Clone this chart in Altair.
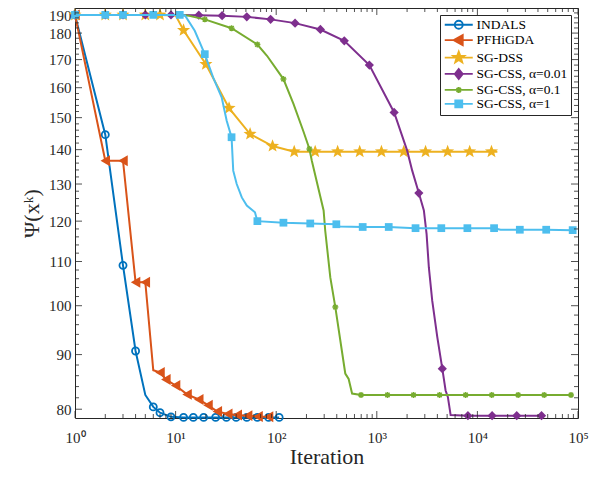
import altair as alt
import pandas as pd
import numpy as np

SERIES = ["INDALS", "PFHiGDA", "SG-DSS", "SG-CSS, α=0.01", "SG-CSS, α=0.1", "SG-CSS, α=1"]
COLORS = ["#0072BD", "#D95319", "#EDB120", "#7E2F8E", "#77AC30", "#4DBEEE"]

indals_it = [1, 2, 3, 4, 5, 6, 7, 9, 12, 15, 19, 25, 32, 40, 51, 65, 84, 107]
indals_val = [187.2, 144.6, 109.1, 90.7, 82.5, 80.4, 79.4, 78.7, 78.6, 78.6, 78.6, 78.6, 78.6, 78.6, 78.6, 78.6, 78.6, 78.6]
indals_mk = [1, 1, 1, 1, 0, 1, 1, 1, 1, 1, 1, 1, 1, 1, 1, 1, 1, 1]

pf_it = [1, 2, 3, 4, 5, 6, 7, 8, 10, 13, 17, 21, 26, 33, 41, 52, 66, 84, 92]
pf_val = [187.2, 136.7, 136.7, 105.2, 105.2, 87.0, 86.6, 85.3, 84.2, 82.6, 81.7, 80.7, 79.6, 79.2, 79.0, 78.9, 78.75, 78.7, 78.7]
pf_mk = [1, 1, 1, 1, 1, 0, 1, 1, 1, 1, 1, 1, 1, 1, 1, 1, 1, 1, 0]

dss_it = [1, 2, 3, 5, 7, 10, 12, 20, 34, 55, 92, 151, 244, 408, 676, 1112, 1854, 3053, 5060, 8380, 13800, 15800]
dss_val = [187.2, 187.2, 187.2, 187.2, 187.2, 187.0, 181.1, 168.3, 153.1, 144.8, 141.1, 139.4,
           139.4, 139.4, 139.4, 139.4, 139.4, 139.4, 139.4, 139.4, 139.4, 139.4]
dss_mk = [1, 1, 1, 1, 1, 0, 1, 1, 1, 1, 1, 1, 1, 1, 1, 1, 1, 1, 1, 1, 1, 0]

cs1_it = [1, 2, 3, 5, 9, 17, 29, 51, 88, 154, 275, 475, 843, 1487, 2004, 2249, 2617, 2937, 3126, 3292,
          3556, 3990, 4478, 4830, 5090, 5420, 8050, 14000, 24600, 43400]
cs1_val = [187.2, 187.2, 187.2, 187.2, 187.2, 187.1, 186.9, 186.4, 185.4, 183.9, 181.4, 177.0, 168.0, 151.7,
           139.7, 133.8, 127.5, 122.8, 116.7, 108.6, 101.1, 93.5, 87.3, 83.3, 82.1, 79.0, 78.9, 78.9, 78.9, 78.9]
cs1_mk = [1, 1, 1, 1, 1, 1, 1, 1, 1, 1, 1, 1, 1, 1, 0, 0, 1, 0, 0, 0, 0, 0, 1, 0, 0, 0, 1, 1, 1, 1]

cs2_it = [1, 2, 3, 6, 11, 13, 19.5, 36, 65, 81, 118, 148.5, 187, 214, 226, 296, 307, 345, 387, 486, 525, 568,
          697, 1276, 2317, 4210, 7640, 13900, 25400, 46100, 85200]
cs2_val = [187.2, 187.2, 187.2, 187.2, 187.2, 187.0, 185.4, 181.9, 175.6, 171.4, 163.0, 154.5, 145.5, 140.2,
           136.7, 122.8, 117.6, 106.3, 99.7, 86.4, 85.4, 82.75, 82.5, 82.5, 82.5, 82.5, 82.5, 82.5, 82.5, 82.5, 82.5]
cs2_mk = [1, 1, 1, 1, 1, 0, 1, 1, 1, 0, 1, 0, 0, 1, 0, 0, 0, 0, 1, 0, 0, 0, 1, 1, 1, 1, 1, 1, 1, 1, 1]

cs3_it = [1, 2, 3, 6, 11, 12.4, 15.5, 19.5, 23.6, 28.7, 32.2, 36, 37.4, 40.5, 45.5, 51, 61.5, 65, 118, 218,
          396, 430, 724, 1314, 2427, 4377, 7950, 14650, 17000, 26400, 48300, 88500]
cs3_val = [187.2, 187.2, 187.2, 187.2, 187.2, 187.0, 180.9, 172.0, 163.6, 156.7, 149.0, 143.8, 133.8, 130.0,
           126.3, 124.1, 122.3, 120.0, 119.6, 119.4, 119.2, 118.6, 118.5, 118.5, 118.2, 118.2, 118.2, 118.2,
           117.8, 117.8, 117.8, 117.7]
cs3_mk = [1, 1, 1, 1, 1, 0, 0, 1, 0, 0, 0, 1, 0, 0, 0, 0, 0, 1, 1, 1, 1, 0, 1, 1, 1, 1, 1, 1, 0, 1, 1, 1]

X_MAJOR = [1, 10, 100, 1000, 10000, 100000]
X_MINOR = [m * 10 ** k for k in range(5) for m in range(2, 10)]
Y_MAJOR = [80, 90, 100, 110, 120, 130, 140, 150, 160, 170, 180, 190]
Y_MINOR = [v for v in range(80, 190, 2) if v % 10 != 0]

W, H = 503, 410
FONT = "Liberation Serif"
AX = "#262626"


def star(R, r):
    pts = []
    for i in range(10):
        a = -np.pi / 2 + i * np.pi / 5
        rad = R if i % 2 == 0 else r
        pts.append((rad * np.cos(a), rad * np.sin(a)))
    return "M" + "L".join(f"{x:.3f},{y:.3f}" for x, y in pts) + "Z"


def asterisk(s):
    d = s * 0.72
    return (f"M{-s},0L{s},0M0,{-s}L0,{s}M{-d:.3f},{-d:.3f}L{d:.3f},{d:.3f}"
            f"M{-d:.3f},{d:.3f}L{d:.3f},{-d:.3f}")


# plot markers: (shape, size, filled, strokeWidth)
MARKERS = [
    ("circle", 50, False, 1.8),
    ("triangle-left", 120, True, 1),
    (star(1, 0.42), 190, True, 1),
    ("diamond", 85, True, 1),
    (asterisk(1), 36, False, 1.5),
    ("square", 60, True, 1),
]

LINE = "M-2.8,0L2.8,0"
LEG_SHAPES = [
    LINE + "M-0.8,0A0.8,0.8,0,1,1,0.8,0A0.8,0.8,0,1,1,-0.8,0Z",
    LINE + "M-1.0,0L0.8,-1.0L0.8,1.0Z",
    LINE + star(1.2, 0.5),
    LINE + "M0,-1.0L0.8,0L0,1.0L-0.8,0Z",
    LINE + asterisk(0.6),
    LINE + "M-0.7,-0.7L0.7,-0.7L0.7,0.7L-0.7,0.7Z",
]
LEG_FILLS = ["white", COLORS[1], COLORS[2], COLORS[3], COLORS[4], COLORS[5]]

xscale = alt.Scale(type="log", domain=[1, 100000], nice=False)
yscale = alt.Scale(type="log", domain=[78.5, 190], nice=False)

data = [
    (indals_it, indals_val, indals_mk),
    (pf_it, pf_val, pf_mk),
    (dss_it, dss_val, dss_mk),
    (cs1_it, cs1_val, cs1_mk),
    (cs2_it, cs2_val, cs2_mk),
    (cs3_it, cs3_val, cs3_mk),
]

x_axis = alt.Axis(orient="bottom", values=X_MAJOR, ticks=False, domain=False, grid=False, labelFlush=False,
                  labelExpr="'10' + ['⁰','¹','²','³','⁴','⁵'][round(log(datum.value)/LN10)]",
                  labelFont=FONT, labelFontSize=15, labelColor=AX, labelPadding=12,
                  title="Iteration", titleFont=FONT, titleFontSize=22, titleFontWeight="normal",
                  titleColor=AX, titlePadding=1)
y_axis = alt.Axis(orient="left", values=Y_MAJOR, ticks=False, domain=False, grid=False, labelFlush=True,
                  labelFont=FONT, labelFontSize=15, labelColor=AX, labelPadding=4,
                  title="Ψ(xᵏ)", titleFont=FONT, titleFontSize=22, titleFontWeight="normal",
                  titleColor=AX, titlePadding=5)


def X(field):
    return alt.X(field, scale=xscale, axis=x_axis)


def Y(field):
    return alt.Y(field, scale=yscale, axis=y_axis)


layers = []
for i, (its, vals, mks) in enumerate(data):
    df = pd.DataFrame({"iter": its, "val": vals, "mk": mks})
    line = alt.Chart(df).mark_line(color=COLORS[i], strokeWidth=2).encode(x=X("iter:Q"), y=Y("val:Q"))
    shape, size, filled, sw = MARKERS[i]
    pts = alt.Chart(df).transform_filter("datum.mk == 1").mark_point(
        shape=shape, size=size, filled=filled, color=COLORS[i], strokeWidth=sw, opacity=1
    ).encode(x=X("iter:Q"), y=Y("val:Q"))
    layers += [line, pts]


# inward tick marks on all four sides
def xticks(vals, length):
    d = pd.DataFrame({"t": vals})
    b = alt.Chart(d).mark_rule(color=AX, strokeWidth=0.8).encode(x=X("t:Q"), y=alt.value(H), y2=alt.value(H - length))
    t = alt.Chart(d).mark_rule(color=AX, strokeWidth=0.8).encode(x=X("t:Q"), y=alt.value(0), y2=alt.value(length))
    return [b, t]


def yticks(vals, length):
    d = pd.DataFrame({"t": vals})
    l = alt.Chart(d).mark_rule(color=AX, strokeWidth=0.8).encode(y=Y("t:Q"), x=alt.value(0), x2=alt.value(length))
    r = alt.Chart(d).mark_rule(color=AX, strokeWidth=0.8).encode(y=Y("t:Q"), x=alt.value(W), x2=alt.value(W - length))
    return [l, r]


tick_layers = xticks(X_MAJOR, 7) + xticks(X_MINOR, 4) + yticks(Y_MAJOR, 7) + yticks(Y_MINOR, 4)

leg = alt.Legend(title=None, orient="none", legendX=365, legendY=7,
                 labelFont=FONT, labelFontSize=13.5, labelColor="black", labelFontWeight="normal",
                 symbolSize=100, symbolStrokeWidth=1.8, symbolFillColor="white", symbolStrokeColor="black",
                 symbolOffset=9, labelOffset=11, rowPadding=-1.6, padding=3,
                 strokeColor=AX, fillColor="white", cornerRadius=0)
legend_df = pd.DataFrame({"series": SERIES})
legend_layer = alt.Chart(legend_df).mark_point(opacity=1).encode(
    x=alt.value(-500), y=alt.value(-500),
    shape=alt.Shape("series:N", scale=alt.Scale(domain=SERIES, range=LEG_SHAPES), legend=leg),
    stroke=alt.Stroke("series:N", scale=alt.Scale(domain=SERIES, range=COLORS), legend=leg),
    fill=alt.Fill("series:N", scale=alt.Scale(domain=SERIES, range=LEG_FILLS), legend=leg),
)

chart = alt.layer(*layers, *tick_layers, legend_layer).properties(
    width=W, height=H,
    autosize=alt.AutoSizeParams(type="none"),
    padding={"left": 67, "top": 0, "right": 15, "bottom": 49},
).configure_view(stroke=AX, strokeWidth=1).configure_legend(
    labelFont=FONT, labelFontSize=13.5, labelFontWeight="normal"
)

chart.save("out.html", embed_options={"renderer": "svg", "actions": False})
